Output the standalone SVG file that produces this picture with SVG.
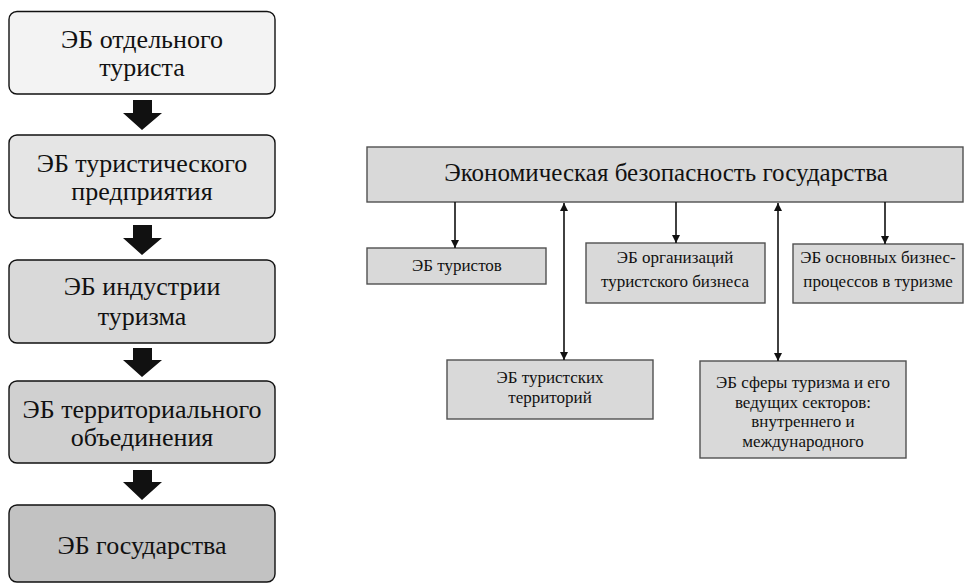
<svg xmlns="http://www.w3.org/2000/svg" width="965" height="585" viewBox="0 0 965 585">
<style>
.lb{stroke:#111;stroke-width:1.4}
.rb{fill:#d9d9d9;stroke:#505050;stroke-width:1.4}
.cn{stroke:#111;stroke-width:1.6;fill:none}
.ba{fill:#111}
</style>
<defs>
<marker id="ah" viewBox="0 0 8 8" refX="8" refY="4" markerWidth="5" markerHeight="5" orient="auto-start-reverse" markerUnits="strokeWidth">
<path d="M0,0 L8,4 L0,8 Z" fill="#111"/>
</marker>
</defs>
<g font-family="Liberation Serif, Times New Roman, serif" font-size="26" fill="#111" text-anchor="middle">
<g id="left1"><rect class="lb" x="9" y="11.5" width="266" height="82.5" rx="8" fill="#f3f3f3"/><text x="142" y="48">ЭБ отдельного</text><text x="142" y="76">туриста</text></g>
<g id="left2"><rect class="lb" x="9" y="135" width="266" height="83" rx="8" fill="#e5e5e5"/><text x="142" y="172">ЭБ туристического</text><text x="142" y="200">предприятия</text></g>
<g id="left3"><rect class="lb" x="9" y="260" width="266" height="83" rx="8" fill="#d9d9d9"/><text x="142" y="295">ЭБ индустрии</text><text x="142" y="325">туризма</text></g>
<g id="left4"><rect class="lb" x="9" y="381" width="266" height="82" rx="8" fill="#d0d0d0"/><text x="142" y="418">ЭБ территориального</text><text x="142" y="446">объединения</text></g>
<g id="left5"><rect class="lb" x="9" y="505" width="266" height="77" rx="8" fill="#c2c2c2"/><text x="142" y="554">ЭБ государства</text></g>
</g>
<g id="block-arrows">
<polygon class="ba" points="133,100 152,100 152,113 162,113 142,130 123,113 133,113"/>
<polygon class="ba" points="133,225 152,225 152,238 162,238 142,255 123,238 133,238"/>
<polygon class="ba" points="133,348 152,348 152,360 162,360 142,377 123,360 133,360"/>
<polygon class="ba" points="133,470 152,470 152,482 162,482 142,500 123,482 133,482"/>
</g>
<g font-family="Liberation Serif, Times New Roman, serif" font-size="17" fill="#111" text-anchor="middle">
<g id="top"><rect class="rb" x="367" y="147" width="596" height="55"/><text x="666" y="181" font-size="25">Экономическая безопасность государства</text></g>
<g id="tourists"><rect class="rb" x="367" y="248" width="179" height="36"/><text x="457" y="271">ЭБ туристов</text></g>
<g id="orgs"><rect class="rb" x="586" y="243" width="179" height="60"/><text x="675" y="263">ЭБ организаций</text><text x="675" y="287">туристского бизнеса</text></g>
<g id="processes"><rect class="rb" x="793" y="244" width="170" height="59"/><text x="878" y="263">ЭБ основных бизнес-</text><text x="878" y="287">процессов в туризме</text></g>
<g id="territories"><rect class="rb" x="447" y="360" width="206" height="59"/><text x="550" y="383">ЭБ туристских</text><text x="550" y="403">территорий</text></g>
<g id="sphere"><rect class="rb" x="700" y="361" width="206" height="97"/><text x="803" y="388">ЭБ сферы туризма и его</text><text x="803" y="408">ведущих секторов:</text><text x="803" y="427">внутреннего и</text><text x="803" y="447">международного</text></g>
</g>
<g id="connectors">
<line class="cn" x1="455" y1="202" x2="455" y2="248" marker-end="url(#ah)"/>
<line class="cn" x1="676" y1="202" x2="676" y2="243" marker-end="url(#ah)"/>
<line class="cn" x1="885" y1="202" x2="885" y2="244" marker-end="url(#ah)"/>
<line class="cn" x1="564" y1="203" x2="564" y2="360" marker-start="url(#ah)" marker-end="url(#ah)"/>
<line class="cn" x1="778" y1="203" x2="778" y2="361" marker-start="url(#ah)" marker-end="url(#ah)"/>
</g>
</svg>
